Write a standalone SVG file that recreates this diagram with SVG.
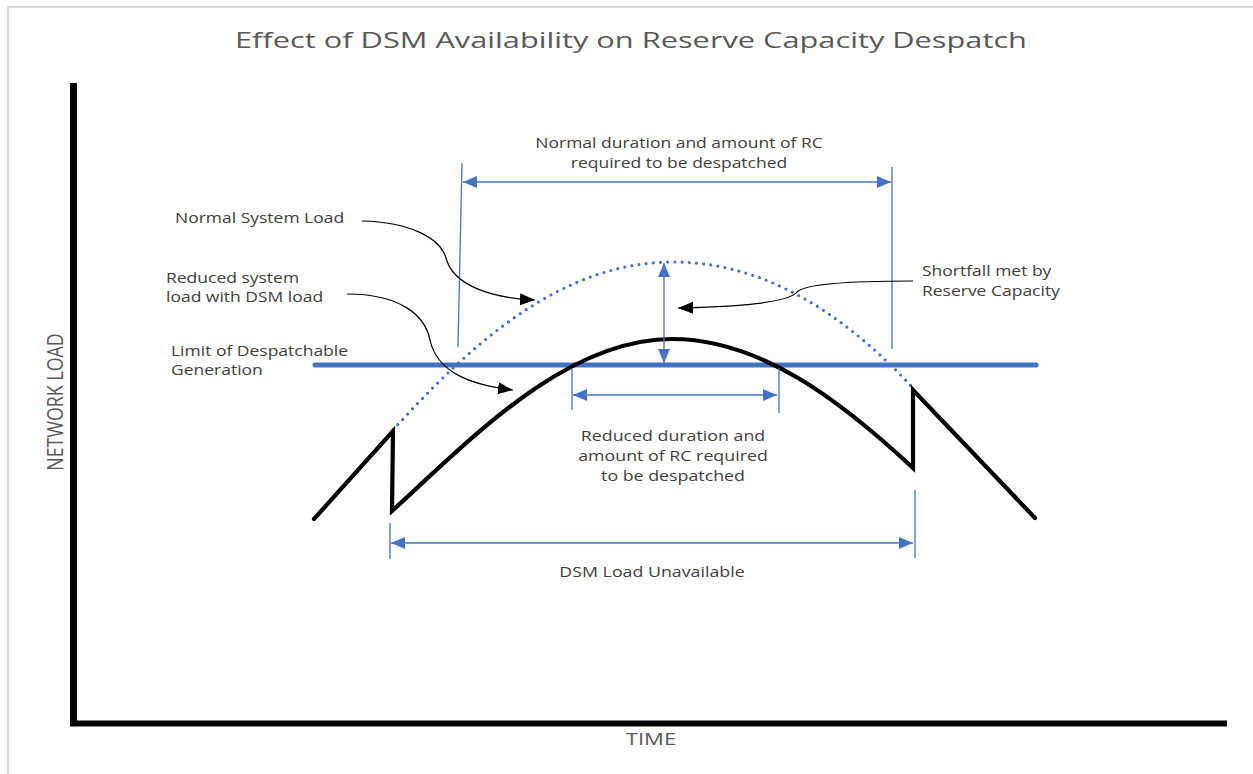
<svg xmlns="http://www.w3.org/2000/svg" width="1253" height="774" viewBox="0 0 1253 774">
<style>
.lbl{font-family:"Open Sans","Liberation Sans",sans-serif;font-size:14px;fill:#404040}
.ttl{font-family:"Open Sans","Liberation Sans",sans-serif;font-size:22px;fill:#595959}
.ax{font-family:"Open Sans","Liberation Sans",sans-serif;font-size:17px;fill:#595959}
.dim{stroke:#4472C4;stroke-width:1.3;fill:none}
.call{stroke:#000;stroke-width:1.2;fill:none}
</style>
<defs>
<marker id="ba" markerUnits="userSpaceOnUse" markerWidth="16" markerHeight="14" refX="14" refY="6" orient="auto-start-reverse"><path d="M0,0 L14,6 L0,12 z" fill="#4472C4"/></marker>
<marker id="ka" markerUnits="userSpaceOnUse" markerWidth="17" markerHeight="14" refX="15" refY="6" orient="auto"><path d="M0,0 L15,6 L0,12 z" fill="#000"/></marker>
</defs>
<rect x="0" y="0" width="1253" height="774" fill="#fff"/>
<rect x="8" y="7" width="1270" height="800" fill="none" stroke="#d9d9d9" stroke-width="2"/>
<g id="title"><text class="ttl" x="235" y="48" textLength="792" lengthAdjust="spacingAndGlyphs">Effect of DSM Availability on Reserve Capacity Despatch</text></g>
<g id="axes">
<line x1="73.5" y1="83" x2="73.5" y2="723" stroke="#000" stroke-width="7"/>
<line x1="70" y1="723.5" x2="1227" y2="723.5" stroke="#000" stroke-width="6"/>
<text class="ax" text-anchor="middle" transform="translate(63,402) rotate(-90) scale(1.05,1.3)">NETWORK LOAD</text>
<text class="ax" text-anchor="middle" transform="translate(651,745) scale(1.3,1)">TIME</text>
</g>
<g id="curves">
<line id="limit" x1="315" y1="365" x2="1036" y2="365" stroke="#4472C4" stroke-width="5" stroke-linecap="round"/>
<path id="normal-load" d="M393,430 C470,345 560,262 673,262 C770,262 850,320 913,388" fill="none" stroke="#4472C4" stroke-width="3.2" stroke-linecap="round" stroke-dasharray="0 7.2"/>
<path id="reduced-load" d="M314,519 L393,431 L392,511 C470,440 565,339 672,339 C760,339 840,400 913,468 L913,390 L1035,518" fill="none" stroke="#000" stroke-width="4.2" stroke-linejoin="miter" stroke-miterlimit="10" stroke-linecap="round"/>
</g>
<g id="connectors">
<line class="dim" x1="462" y1="163" x2="458" y2="347"/>
<line class="dim" x1="892" y1="167" x2="892" y2="349"/>
<line class="dim" x1="463" y1="182" x2="891" y2="182" marker-start="url(#ba)" marker-end="url(#ba)"/>
<line class="dim" x1="664" y1="263" x2="664" y2="363" marker-start="url(#ba)" marker-end="url(#ba)"/>
<line class="dim" x1="572" y1="368" x2="572" y2="410"/>
<line class="dim" x1="779" y1="368" x2="779" y2="413"/>
<line class="dim" x1="573" y1="395" x2="777" y2="395" marker-start="url(#ba)" marker-end="url(#ba)"/>
<line class="dim" x1="390" y1="523" x2="390" y2="559"/>
<line class="dim" x1="915" y1="490" x2="915" y2="558"/>
<line class="dim" x1="391" y1="543" x2="913" y2="543" marker-start="url(#ba)" marker-end="url(#ba)"/>
<path class="call" d="M362,221 C410,222 440,238 446,258 C453,285 490,298 535,300" marker-end="url(#ka)"/>
<path class="call" d="M347,294 C400,294 425,315 430,340 C437,372 470,385 513,390" marker-end="url(#ka)"/>
<path class="call" d="M913,281 C850,281 805,284 797,292 C790,302 740,307 678,308" marker-end="url(#ka)"/>
</g>
<g id="lbl-normal-rc"><text class="lbl" text-anchor="middle" transform="translate(679,148) scale(1.25,1)">Normal duration and amount of RC</text><text class="lbl" text-anchor="middle" transform="translate(679,168) scale(1.25,1)">required to be despatched</text></g>
<g id="lbl-normal-load"><text class="lbl" transform="translate(175,223) scale(1.25,1)">Normal System Load</text></g>
<g id="lbl-reduced-load"><text class="lbl" transform="translate(166,283) scale(1.25,1)">Reduced system</text><text class="lbl" transform="translate(166,302) scale(1.25,1)">load with DSM load</text></g>
<g id="lbl-limit"><text class="lbl" transform="translate(171,356) scale(1.25,1)">Limit of Despatchable</text><text class="lbl" transform="translate(171,375) scale(1.25,1)">Generation</text></g>
<g id="lbl-shortfall"><text class="lbl" transform="translate(922,276) scale(1.25,1)">Shortfall met by</text><text class="lbl" transform="translate(922,296) scale(1.25,1)">Reserve Capacity</text></g>
<g id="lbl-reduced-rc"><text class="lbl" text-anchor="middle" transform="translate(673,441) scale(1.27,1)">Reduced duration and</text><text class="lbl" text-anchor="middle" transform="translate(673,461) scale(1.27,1)">amount of RC required</text><text class="lbl" text-anchor="middle" transform="translate(673,481) scale(1.27,1)">to be despatched</text></g>
<g id="lbl-dsm"><text class="lbl" text-anchor="middle" transform="translate(652,577) scale(1.27,1)">DSM Load Unavailable</text></g>
</svg>
